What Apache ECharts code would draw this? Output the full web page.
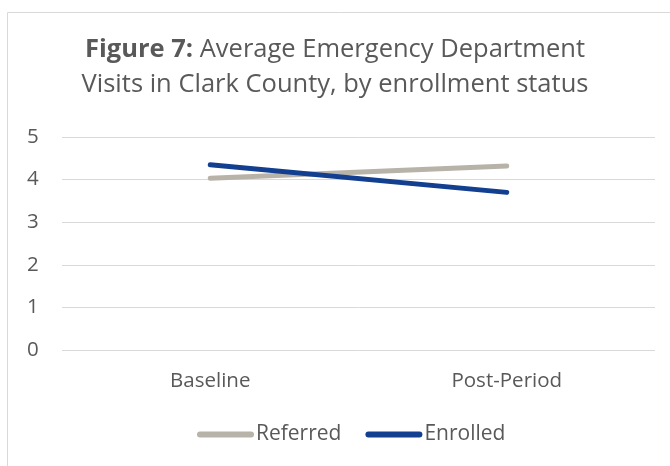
<!DOCTYPE html>
<html><head><meta charset="utf-8">
<script src="https://cdn.jsdelivr.net/npm/echarts@6/dist/echarts.min.js"></script>
<style>html,body{margin:0;padding:0;background:#fff}#c{width:670px;height:466px}</style>
</head><body><div id="c"></div>
<script>
const categories = ['Baseline', 'Post-Period'];
const referred = [4.03, 4.32];
const enrolled = [4.35, 3.70];
const yTicks = [0, 1, 2, 3, 4, 5];

const chart = echarts.init(document.getElementById('c'));
const txt = '#595959';
const font = 'Open Sans';
chart.setOption({
  animation: false,
  textStyle: { fontFamily: font },
  graphic: [{ type: 'rect', shape: { x: 7.5, y: 12.5, width: 700, height: 500 }, style: { fill: 'none', stroke: '#d9d9d9', lineWidth: 1 } }],
  title: {
    left: 'center', top: 27,
    text: '{b|Figure 7:} Average Emergency Department\nVisits in Clark County, by enrollment status',
    textStyle: {
      fontFamily: font, fontSize: 25.5, fontWeight: 'normal', color: txt, lineHeight: 35,
      rich: { b: { fontFamily: font, fontSize: 25.5, fontWeight: 'bold', color: txt, lineHeight: 35 } }
    }
  },
  legend: {
    bottom: 16, left: 192, itemWidth: 57, itemHeight: 6, itemGap: 24,
    icon: 'path://M3,0 L54,0 A3,3 0 0 1 54,6 L3,6 A3,3 0 0 1 3,0 Z',
    textStyle: { color: txt, fontSize: 21, fontFamily: font, padding: [0, 0, 0, -3] },
    data: ['Referred', 'Enrolled']
  },
  grid: { left: 62, right: 15, top: 137, height: 213 },
  xAxis: {
    type: 'category', data: categories, boundaryGap: true,
    axisLine: { show: false }, axisTick: { show: false },
    axisLabel: { color: txt, fontSize: 20.5, margin: 21, fontFamily: font }
  },
  yAxis: {
    type: 'value', min: yTicks[0], max: yTicks[yTicks.length - 1], interval: 1,
    axisLine: { show: false }, axisTick: { show: false },
    axisLabel: { color: txt, fontSize: 20.5, margin: 35, align: 'left', fontFamily: font },
    splitLine: { lineStyle: { color: '#d9d9d9', width: 1 } }
  },
  series: [
    { name: 'Referred', type: 'line', data: referred, symbol: 'none', lineStyle: { color: '#b8b3a8', width: 5, cap: 'round' }, itemStyle: { color: '#b8b3a8' } },
    { name: 'Enrolled', type: 'line', data: enrolled, symbol: 'none', lineStyle: { color: '#123f8f', width: 5, cap: 'round' }, itemStyle: { color: '#123f8f' } }
  ]
});
</script></body></html>
